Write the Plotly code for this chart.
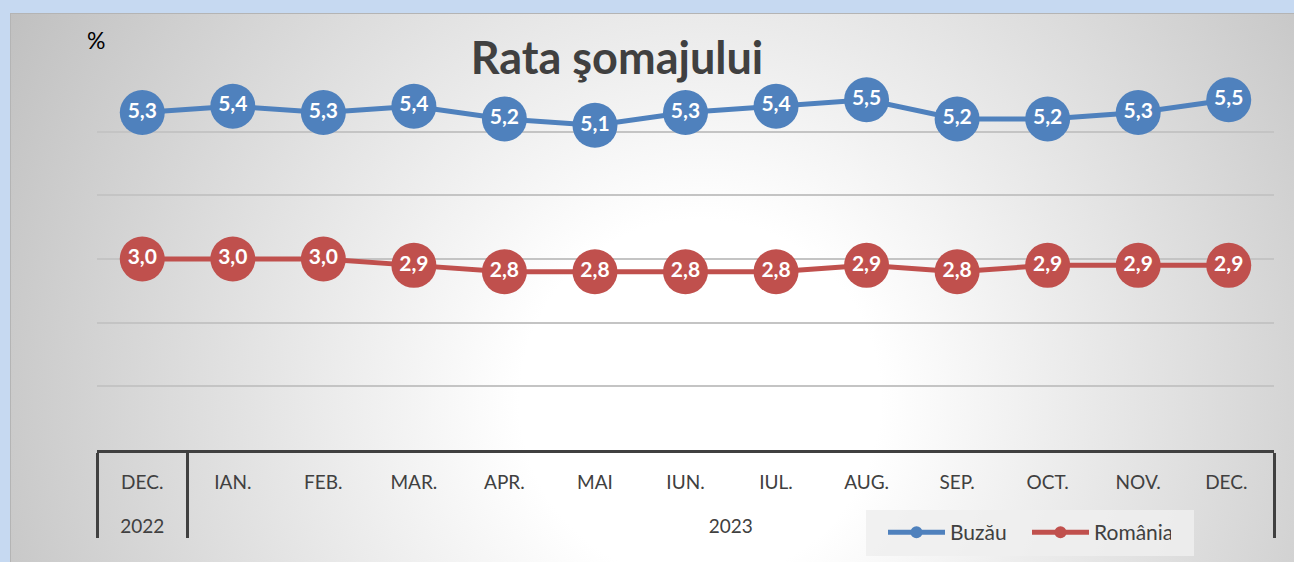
import base64
import plotly.graph_objects as go

# ---- data ----
months = ["DEC.", "IAN.", "FEB.", "MAR.", "APR.", "MAI", "IUN.", "IUL.", "AUG.", "SEP.", "OCT.", "NOV.", "DEC.\u00a0"]
years = ["2022"] + ["2023"] * 12
buzau = [5.3, 5.4, 5.3, 5.4, 5.2, 5.1, 5.3, 5.4, 5.5, 5.2, 5.2, 5.3, 5.5]
romania = [3.0, 3.0, 3.0, 2.9, 2.8, 2.8, 2.8, 2.8, 2.9, 2.8, 2.9, 2.9, 2.9]
series_names = ["Buzău", "România"]
colors = ["#4F81BD", "#C0504D"]

W, H = 1294, 562

def fmt(v):
    return f"{v:.1f}".replace(".", ",")

# background (outer blue frame + radial gradient chart area)
svg = f'''<svg xmlns="http://www.w3.org/2000/svg" width="{W}" height="{H}" viewBox="0 0 {W} {H}" preserveAspectRatio="none">
<defs><radialGradient id="g" gradientUnits="userSpaceOnUse" cx="700" cy="400" r="820">
<stop offset="0" stop-color="#FFFFFF"/><stop offset="0.22" stop-color="#FFFFFF"/>
<stop offset="1" stop-color="#BDBDBD"/></radialGradient></defs>
<rect x="0" y="0" width="{W}" height="{H}" fill="#C6D9F1"/>
<rect x="10.5" y="13.5" width="{W}" height="{H}" fill="url(#g)" stroke="#B4B4B4" stroke-width="1"/>
</svg>'''
src = "data:image/svg+xml;base64," + base64.b64encode(svg.encode()).decode()

fig = go.Figure()
# month labels carry an empty second line so the year row sits lower
pad = "<br><span style='font-size:46px'>\u00a0</span>"
x = [years, [m + pad for m in months]]
for name, vals, col in zip(series_names, [buzau, romania], colors):
    fig.add_trace(go.Scatter(
        x=x, y=vals, mode="lines+markers+text", name=name, showlegend=False,
        line=dict(color=col, width=5),
        marker=dict(color=col, size=45, line=dict(width=0)),
        text=[fmt(v) for v in vals], textposition="middle center",
        textfont=dict(family="Lato", size=21, color="white", weight="bold"),
        hoverinfo="skip", cliponaxis=False,
    ))
for name, col in zip(series_names, colors):
    fig.add_trace(go.Scatter(
        x=[None], y=[None], mode="lines+markers", name=name,
        line=dict(color=col, width=5), marker=dict(color=col, size=12),
    ))

fig.update_layout(
    width=W, height=H,
    margin=dict(l=0, r=0, t=0, b=0, autoexpand=False),
    paper_bgcolor="#C6D9F1", plot_bgcolor="rgba(0,0,0,0)",
    font=dict(family="Lato", color="#404040"),
    images=[dict(source=src, xref="paper", yref="paper", x=0, y=1, sizex=1, sizey=1,
                 xanchor="left", yanchor="top", sizing="stretch", layer="below")],
    shapes=[dict(type="rect", xref="paper", yref="paper", x0=866 / W, x1=1194 / W,
                 y0=1 - 556 / H, y1=1 - 510 / H, fillcolor="rgba(238,238,238,0.85)",
                 line=dict(width=0), layer="below")],
    title=dict(text="<b>Rata şomajului</b>", x=617 / W, y=1 - 58 / H, xref="container",
               yref="container", xanchor="center", yanchor="middle",
               font=dict(family="Lato", size=45, color="#404040")),
    xaxis=dict(domain=[97 / W, 1274 / W], type="multicategory", showline=True,
               range=[-0.5, 12.5], autorange=False,
               linecolor="#404040", linewidth=3, showgrid=False,
               ticks="outside", ticklen=13, tickcolor="rgba(0,0,0,0)",
               ticklabelstandoff=13,
               dividercolor="#404040", dividerwidth=3,
               tickfont=dict(family="Lato", size=19, color="#404040")),
    yaxis=dict(domain=[112 / H, 494 / H], range=[0, 6], dtick=1, showgrid=True,
               gridcolor="#C4C4C4", gridwidth=1.5, showticklabels=False,
               zeroline=False, showline=False),
    legend=dict(orientation="h", x=883 / W, y=1 - 512 / H, xanchor="left", yanchor="top",
                bgcolor="rgba(0,0,0,0)", font=dict(family="Lato", size=21, color="#404040"),
                itemwidth=57, traceorder="normal", entrywidth=72, entrywidthmode="pixels"),
    annotations=[dict(text="%", x=96 / W, y=1 - 40 / H, xref="paper", yref="paper",
                      showarrow=False, xanchor="center", yanchor="middle",
                      font=dict(family="Lato", size=23, color="#000000"))],
)

fig.write_html("out.html", config={"displayModeBar": False},
               post_script="document.body.style.margin='0px';")
